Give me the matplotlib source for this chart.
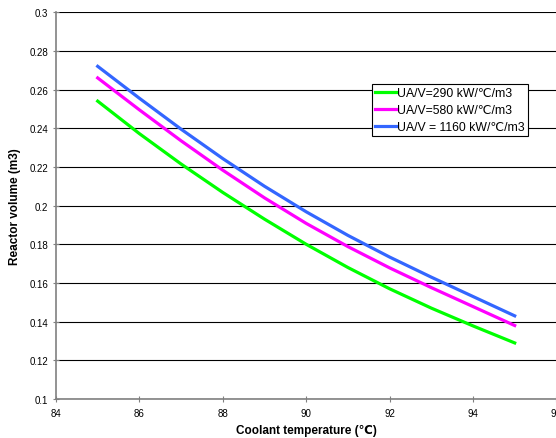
import matplotlib
matplotlib.use("Agg")
import matplotlib.pyplot as plt

plt.rcParams['font.family'] = ['Liberation Sans', 'DejaVu Sans']

temp = [85, 86, 87, 88, 89, 90, 91, 92, 93, 94, 95]
vol_290 = [0.254, 0.2372, 0.2215, 0.2068, 0.193, 0.180, 0.168, 0.157, 0.147, 0.1378, 0.129]
vol_580 = [0.266, 0.2495, 0.2335, 0.2183, 0.204, 0.1908, 0.1788, 0.1678, 0.1576, 0.1478, 0.138]
vol_1160 = [0.272, 0.2555, 0.2395, 0.2243, 0.210, 0.1968, 0.1846, 0.1734, 0.163, 0.153, 0.143]
labels = ["UA/V=290 kW/\u2103/m3", "UA/V=580 kW/\u2103/m3", "UA/V = 1160 kW/\u2103/m3"]

fig = plt.figure(figsize=(5.56, 4.39), dpi=100)
ax = fig.add_axes([0.1007, 0.0888, 0.9, 0.8812])

ax.plot(temp, vol_290, color="#00ff00", lw=2.3, label=labels[0])
ax.plot(temp, vol_580, color="#ff00ff", lw=2.3, label=labels[1])
ax.plot(temp, vol_1160, color="#3366ff", lw=2.3, label=labels[2])

ax.set_xlim(84, 96)
ax.set_ylim(0.1, 0.3)
ax.set_xticks(range(84, 97, 2))
ax.set_yticks([0.1, 0.12, 0.14, 0.16, 0.18, 0.2, 0.22, 0.24, 0.26, 0.28, 0.3])
ax.set_yticklabels(["0.1", "0.12", "0.14", "0.16", "0.18", "0.2", "0.22", "0.24", "0.26", "0.28", "0.3"])
ax.yaxis.grid(True, color="black", lw=0.8)
ax.set_axisbelow(True)
for s in ["top", "right"]:
    ax.spines[s].set_visible(False)
ax.spines["left"].set_color("#808080")
ax.spines["bottom"].set_color("#808080")
ax.spines["left"].set_linewidth(1.2)
ax.spines["bottom"].set_linewidth(1.2)
ax.tick_params(labelsize=7, color="#808080", length=5, width=0.8, direction="inout")
ax.tick_params(axis="x", pad=4)
ax.tick_params(axis="y", pad=3)

ax.set_xlabel("Coolant temperature (\u2103)", fontsize=8.5, fontweight="bold", labelpad=4)
ax.set_ylabel("Reactor volume (m3)", fontsize=8.5, fontweight="bold", labelpad=6)

leg = ax.legend(loc="upper left", bbox_to_anchor=(0.631, 0.814), fontsize=8.8,
                frameon=True, fancybox=False, framealpha=1, edgecolor="black",
                handlelength=1.8, handletextpad=0.05, borderpad=0.25, labelspacing=0.4,
                borderaxespad=0)
leg.get_frame().set_linewidth(0.8)

fig.savefig("out.png", dpi=100)
